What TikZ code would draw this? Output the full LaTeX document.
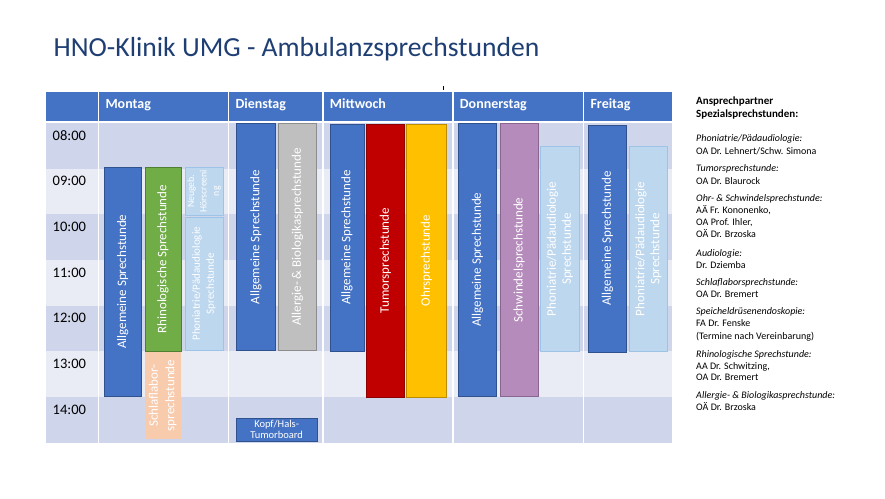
\documentclass[tikz,border=0pt]{standalone}
\usepackage{fontspec}
\setmainfont{Carlito}
\definecolor{titlec}{HTML}{1F3F74}
\definecolor{hdr}{HTML}{4472C4}
\definecolor{rowA}{HTML}{CFD5EA}
\definecolor{rowB}{HTML}{E9EBF5}
\definecolor{bluef}{HTML}{4472C4}
\definecolor{blued}{HTML}{2F528F}
\definecolor{greenf}{HTML}{70AD47}
\definecolor{greend}{HTML}{507E32}
\definecolor{grayf}{HTML}{BFBFBF}
\definecolor{grayd}{HTML}{8C8C8C}
\definecolor{redf}{HTML}{C00000}
\definecolor{redd}{HTML}{8F0000}
\definecolor{goldf}{HTML}{FFC000}
\definecolor{goldd}{HTML}{BC8C00}
\definecolor{purplef}{HTML}{B48BBA}
\definecolor{purpled}{HTML}{8A6590}
\definecolor{lightf}{HTML}{BDD7EE}
\definecolor{lightd}{HTML}{9DC3E6}
\definecolor{peachf}{HTML}{F8CBAD}
\newcommand\blk[6]{%
  \node[#2, minimum width={(#5-#3)*1pt}, minimum height={(#6-#4)*1pt}] (#1) at ({(#3+#5)/2},{(#4+#6)/2}) {};}
\begin{document}
\begin{tikzpicture}[x=1pt,y=-1pt,
  box/.style={rectangle, inner sep=0pt, outer sep=0pt, line width=0.8pt},
  bluebox/.style={box, fill=bluef, draw=blued},
  greenbox/.style={box, fill=greenf, draw=greend},
  graybox/.style={box, fill=grayf, draw=grayd},
  redbox/.style={box, fill=redf, draw=redd},
  goldbox/.style={box, fill=goldf, draw=goldd},
  purplebox/.style={box, fill=purplef, draw=purpled},
  lightbox/.style={box, fill=lightf, draw=lightd},
  peachbox/.style={box, fill=peachf},
  vtext/.style={rotate=90, text=white, align=center, inner sep=0pt, font=\fontsize{13}{15.5}\selectfont},
  timelbl/.style={anchor=base west, inner sep=0pt, font=\fontsize{14.5}{17}\selectfont},
  daylbl/.style={anchor=base west, inner sep=0pt, text=white, font=\bfseries\fontsize{14}{17}\selectfont},
  sidehead/.style={anchor=base west, inner sep=0pt, font=\bfseries\fontsize{11}{13}\selectfont},
  sideit/.style={anchor=base west, inner sep=0pt, font=\itshape\fontsize{10}{12}\selectfont},
  sidetx/.style={anchor=base west, inner sep=0pt, font=\fontsize{10}{12}\selectfont},
  sep/.style={white, line width=1.6pt}
]
\useasboundingbox[fill=white] (0,0) rectangle (885,498);

% title
\node[anchor=base west, inner sep=0pt, text=titlec, font=\fontsize{27.6}{32}\selectfont] (title) at (53.5,56.5) {HNO-Klinik UMG - Ambulanzsprechstunden};
\draw[black, line width=0.7pt] (443.5,86) -- (443.5,90);

% table background
\fill[hdr] (46,91.5) rectangle (671.7,121);
\fill[rowA] (46,123) rectangle (671.7,168.7);
\fill[rowB] (46,168.7) rectangle (671.7,214.3);
\fill[rowA] (46,214.3) rectangle (671.7,260);
\fill[rowB] (46,260) rectangle (671.7,305.7);
\fill[rowA] (46,305.7) rectangle (671.7,351.3);
\fill[rowB] (46,351.3) rectangle (671.7,397);
\fill[rowA] (46,397) rectangle (671.7,442.7);
\foreach \xx in {98.3,228.3,322.7,452.7,583.3} {\draw[sep] (\xx,91.5) -- (\xx,442.7);}

% header labels
\node[daylbl] (mo) at (105.3,108.3) {Montag};
\node[daylbl] (di) at (235.3,108.3) {Dienstag};
\node[daylbl] (mi) at (329.7,108.3) {Mittwoch};
\node[daylbl] (do) at (459.7,108.3) {Donnerstag};
\node[daylbl] (fr) at (590.3,108.3) {Freitag};

% times
\node[timelbl] (t8) at (52.5,140) {08:00};
\node[timelbl] (t9) at (52.5,185.7) {09:00};
\node[timelbl] (t10) at (52.5,231.3) {10:00};
\node[timelbl] (t11) at (52.5,277) {11:00};
\node[timelbl] (t12) at (52.5,322.7) {12:00};
\node[timelbl] (t13) at (52.5,368.3) {13:00};
\node[timelbl] (t14) at (52.5,414) {14:00};

% Montag
\blk{mA}{bluebox}{104}{167.5}{141.5}{396}
\node[vtext] (mAt) at (mA.center) {Allgemeine Sprechstunde};
\blk{mR}{greenbox}{145}{167.5}{181}{351}
\node[vtext] (mRt) at (mR.center) {Rhinologische Sprechstunde};
\blk{mN}{lightbox}{185}{167.5}{223}{215}
\node[vtext, font=\fontsize{9.8}{12.5}\selectfont] (mNt) at (mN.center) {Neugeb.\\Hörscreeni\\ng};
\blk{mP}{lightbox}{185}{217}{223}{350.5}
\node[vtext, font=\fontsize{11}{14}\selectfont] (mPt) at (mP.center) {Phoniatrie/Pädaudiologie\\Sprechstunde};
\blk{mS}{peachbox}{144.5}{352}{181}{439}
\node[vtext, font=\fontsize{13}{16.5}\selectfont] (mSt) at (mS.center) {Schlaflabor-\\sprechstunde};

% Dienstag
\blk{dA}{bluebox}{236.7}{123.5}{275}{350.5}
\node[vtext] (dAt) at (dA.center) {Allgemeine Sprechstunde};
\blk{dB}{graybox}{278.3}{123.5}{316.7}{350.5}
\node[vtext] (dBt) at (dB.center) {Allergie- \& Biologikasprechstunde};
\blk{dK}{bluebox}{236}{418}{317.3}{441}
\node[text=white, align=center, inner sep=0pt, font=\fontsize{10.5}{11.7}\selectfont] (dKt) at (dK.center) {Kopf/Hals-\\Tumorboard};

% Mittwoch
\blk{wA}{bluebox}{330}{124}{364}{351}
\node[vtext] (wAt) at (wA.center) {Allgemeine Sprechstunde};
\blk{wT}{redbox}{366.7}{124}{404}{397}
\node[vtext] (wTt) at (wT.center) {Tumorsprechstunde};
\blk{wO}{goldbox}{406.7}{124}{446}{397}
\node[vtext] (wOt) at (wO.center) {Ohrsprechstunde};

% Donnerstag
\blk{oA}{bluebox}{458.3}{123.5}{496.7}{396}
\node[vtext] (oAt) at (oA.center) {Allgemeine Sprechstunde};
\blk{oS}{purplebox}{500}{123.5}{538.3}{396.5}
\node[vtext] (oSt) at (oS.center) {Schwindelsprechstunde};
\blk{oP}{lightbox}{540.7}{146.7}{579.3}{351}
\node[vtext, font=\fontsize{13}{15}\selectfont] (oPt) at (oP.center) {Phoniatrie/Pädaudiologie\\Sprechstunde};

% Freitag
\blk{fA}{bluebox}{588.3}{125}{626.7}{352}
\node[vtext] (fAt) at (fA.center) {Allgemeine Sprechstunde};
\blk{fP}{lightbox}{629.3}{146.7}{667.7}{351}
\node[vtext, font=\fontsize{13}{15}\selectfont] (fPt) at (fP.center) {Phoniatrie/Pädaudiologie\\Sprechstunde};

% side panel
\node[sidehead] (h1) at (696,104.7) {Ansprechpartner};
\node[sidehead] (h2) at (696,117.2) {Spezialsprechstunden:};
\node[sideit] (s1) at (696,141.3) {Phoniatrie/Pädaudiologie:};
\node[sidetx] (s2) at (696,154) {OA Dr. Lehnert/Schw. Simona};
\node[sideit] (s3) at (696,171.7) {Tumorsprechstunde:};
\node[sidetx] (s4) at (696,184) {OA Dr. Blaurock};
\node[sideit] (s5) at (696,201.3) {Ohr- \& Schwindelsprechstunde:};
\node[sidetx] (s6) at (696,213.7) {AÄ Fr. Kononenko,};
\node[sidetx] (s7) at (696,225.7) {OA Prof. Ihler,};
\node[sidetx] (s8) at (696,237.3) {OÄ Dr. Brzoska};
\node[sideit] (s9) at (696,256.3) {Audiologie:};
\node[sidetx] (s10) at (696,268) {Dr. Dziemba};
\node[sideit] (s11) at (696,285.3) {Schlaflaborsprechstunde:};
\node[sidetx] (s12) at (696,297.3) {OA Dr. Bremert};
\node[sideit] (s13) at (696,314.7) {Speicheldrüsenendoskopie:};
\node[sidetx] (s14) at (696,326.3) {FA Dr. Fenske};
\node[sidetx] (s15) at (696,339.5) {(Termine nach Vereinbarung)};
\node[sideit] (s16) at (696,357) {Rhinologische Sprechstunde:};
\node[sidetx] (s17) at (696,369.7) {AA Dr. Schwitzing,};
\node[sidetx] (s18) at (696,380.7) {OA Dr. Bremert};
\node[sideit] (s19) at (696,398.7) {Allergie- \& Biologikasprechstunde:};
\node[sidetx] (s20) at (696,410.7) {OÄ Dr. Brzoska};
\end{tikzpicture}
\end{document}
